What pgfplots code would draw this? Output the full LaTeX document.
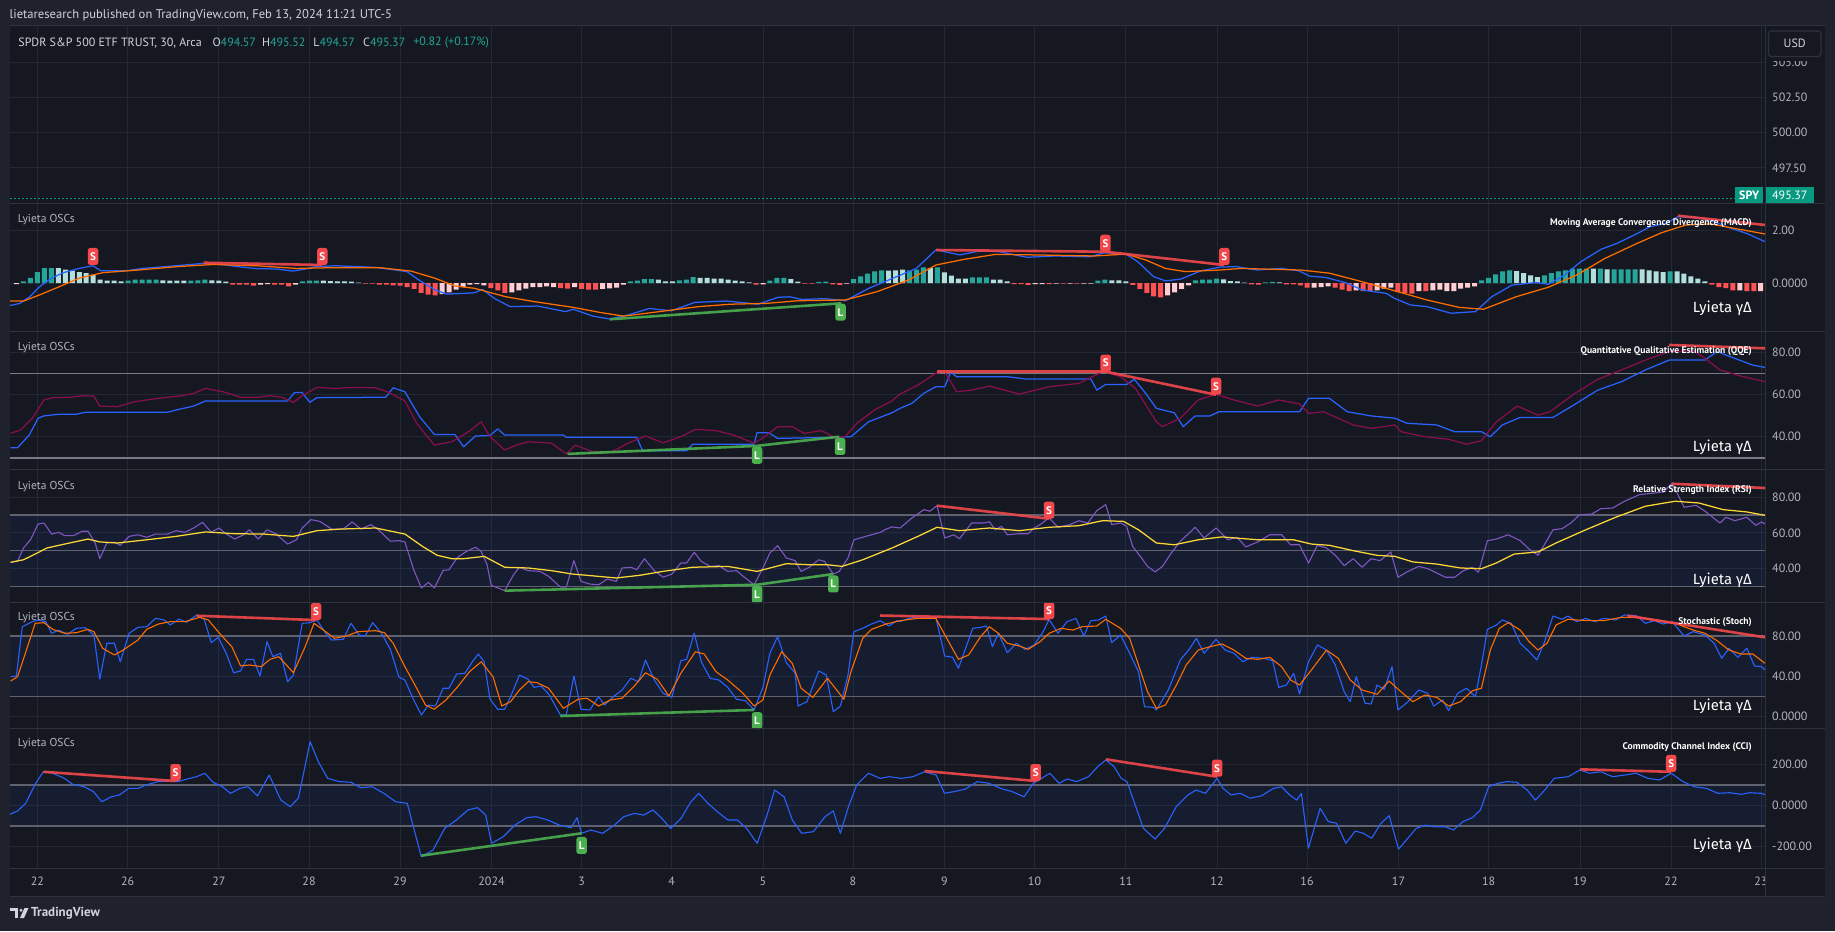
\documentclass[border=0pt]{standalone}
\usepackage{pgfplots}
\pgfplotsset{compat=1.18}
\usepackage{fontspec}
\setmainfont{PT Sans}
\newfontfamily\greekfont{Fira Sans}
\definecolor{outerbg}{RGB}{31,34,44}
\definecolor{chartbg}{RGB}{21,24,33}
\definecolor{gridc}{RGB}{36,40,51}
\definecolor{sepc}{RGB}{46,50,61}
\definecolor{tickc}{RGB}{178,181,190}
\definecolor{hdrc}{RGB}{209,212,220}
\definecolor{tvteal}{RGB}{8,153,129}
\definecolor{lvalc}{RGB}{34,166,148}
\definecolor{mblue}{RGB}{41,98,255}
\definecolor{morange}{RGB}{255,109,0}
\definecolor{hT}{RGB}{38,166,154}
\definecolor{hL}{RGB}{178,223,219}
\definecolor{hR}{RGB}{255,82,82}
\definecolor{hP}{RGB}{255,205,210}
\definecolor{qcrim}{RGB}{136,14,79}
\definecolor{rpurp}{RGB}{126,87,194}
\definecolor{ryel}{RGB}{253,216,53}
\definecolor{thr}{RGB}{95,98,110}
\definecolor{thrb}{RGB}{120,123,134}
\definecolor{bandc}{RGB}{41,98,255}
\definecolor{divred}{RGB}{242,72,76}
\definecolor{divgreen}{RGB}{76,175,80}
\newcommand{\fs}[1]{\fontsize{#1}{#1}\selectfont}
\pgfplotsset{
  osc/.style={
    scale only axis, width=1755pt, xmin=10, xmax=1765, clip=false,
    axis line style={draw=none}, major tick length=0pt,
    xtick={37.4,127.6,218.8,309,400,491.5,581.6,671.7,763,853,944.4,1034.5,1125.8,1217,1307,1398.5,1488.6,1580,1671,1761},
    xticklabels={},
    xmajorgrids, ymajorgrids,
    major grid style={draw=gridc, line width=1pt},
    yticklabel pos=right,
    yticklabel style={font=\fs{12}, text=tickc, anchor=west, inner sep=0pt, xshift=7pt},
    every axis plot/.append style={line width=1.25pt, line join=round},
  },
  hbar/.style={ybar, bar width=5pt, bar shift=0pt, draw=none, x filter/.expression={37.4+6.977*x}},
  dred/.style={divred, line width=2.6pt, opacity=0.9},
  dgreen/.style={divgreen, line width=2.6pt, opacity=0.9},
  sigS/.style={only marks, mark=text, text mark={S}, text mark as node=true,
    text mark style={rectangle, rounded corners=2.5pt, fill=divred, text=white, font=\fs{11}\bfseries, inner sep=0pt, minimum width=10.5pt, minimum height=17pt, yshift=8.5pt}},
  sigL/.style={only marks, mark=text, text mark={L}, text mark as node=true,
    text mark style={rectangle, rounded corners=2.5pt, fill=divgreen, text=white, font=\fs{11}\bfseries, inner sep=0pt, minimum width=10.5pt, minimum height=17pt, yshift=-8.5pt}},
}
\begin{document}
\begin{tikzpicture}
\path[use as bounding box] (0pt,0pt) rectangle (1835pt,-931pt);
\fill[outerbg] (0pt,0pt) rectangle (1835pt,-931pt);
\fill[chartbg] (10pt,-26pt) rectangle (1825pt,-896pt);

% ---------------- price pane
\begin{axis}[osc, at={(10pt,-26pt)}, anchor=north west, height=177pt, ymin=495.02, ymax=507.55,
  ytick={497.5,500,502.5,505}, yticklabels={497.50,500.00,502.50,505.00}]
\addplot[tvteal, line width=1pt, dash pattern=on 1.5pt off 2.5pt] coordinates {(10,495.37) (1735,495.37)};
\end{axis}

% ---------------- MACD pane
\begin{axis}[osc, at={(10pt,-203pt)}, anchor=north west, height=128.5pt, ymin=-1.830, ymax=3.019,
  ytick={0,2}, yticklabels={0.0000,2.00}]
\addplot[hbar, fill=hT] coordinates {(-2,0.064) (-1,0.189) (0,0.415) (1,0.566) (2,0.566) (13,0.087) (14,0.125) (15,0.125) (16,0.125) (17,0.125) (22,0.087) (23,0.102) (24,0.125) (38,0.064) (39,0.087) (40,0.087) (85,0.064) (86,0.087) (87,0.151) (88,0.151) (92,0.102) (93,0.125) (94,0.226) (105,0.087) (106,0.189) (107,0.189) (112,0.038) (113,0.049) (117,0.151) (118,0.253) (119,0.351) (120,0.441) (121,0.479) (125,0.479) (126,0.502) (127,0.592) (129,0.592) (134,0.215) (135,0.215) (136,0.215) (152,0.087) (153,0.125) (166,0.102) (167,0.125) (168,0.125) (169,0.162) (176,0.026) (177,0.038) (207,0.102) (208,0.189) (209,0.328) (210,0.441) (211,0.479) (216,0.29) (217,0.377) (218,0.441) (219,0.479) (220,0.54) (221,0.54) (222,0.54) (224,0.54) (226,0.517) (227,0.517) (228,0.517) (229,0.517) (234,0.441)};
\addplot[hbar, fill=hL] coordinates {(3,0.566) (4,0.502) (5,0.464) (6,0.415) (7,0.377) (8,0.313) (9,0.125) (10,0.087) (11,0.087) (12,0.064) (18,0.102) (19,0.087) (20,0.087) (21,0.087) (25,0.102) (26,0.087) (27,0.049) (41,0.087) (42,0.075) (43,0.064) (44,0.064) (45,0.049) (46,0.011) (89,0.125) (90,0.064) (91,0.064) (95,0.189) (96,0.189) (97,0.162) (98,0.162) (99,0.125) (100,0.087) (101,0.064) (102,0.026) (108,0.151) (109,0.049) (122,0.464) (123,0.479) (124,0.502) (128,0.566) (130,0.404) (131,0.275) (132,0.162) (133,0.162) (137,0.125) (138,0.125) (139,0.064) (154,0.102) (155,0.102) (156,0.064) (170,0.14) (171,0.075) (172,0.064) (173,0.011) (178,0.026) (212,0.453) (213,0.377) (214,0.29) (215,0.226) (223,0.54) (225,0.517) (230,0.517) (231,0.479) (232,0.441) (233,0.415) (235,0.441) (236,0.351) (237,0.253) (238,0.162) (239,0.064)};
\addplot[hbar, fill=hR] coordinates {(28,-0.064) (29,-0.064) (30,-0.064) (31,-0.102) (34,-0.064) (35,-0.064) (36,-0.125) (47,-0.026) (48,-0.026) (49,-0.064) (50,-0.064) (51,-0.087) (52,-0.102) (53,-0.151) (54,-0.226) (55,-0.377) (56,-0.441) (57,-0.464) (65,-0.189) (66,-0.275) (67,-0.377) (75,-0.189) (76,-0.215) (78,-0.226) (79,-0.253) (80,-0.253) (103,-0.064) (110,-0.026) (111,-0.026) (114,-0.049) (115,-0.075) (140,-0.038) (141,-0.038) (142,-0.075) (145,-0.038) (147,-0.026) (149,-0.026) (157,-0.075) (158,-0.226) (159,-0.377) (160,-0.502) (161,-0.54) (174,-0.049) (175,-0.064) (179,-0.049) (180,-0.049) (181,-0.087) (182,-0.177) (186,-0.177) (187,-0.253) (188,-0.302) (190,-0.302) (191,-0.302) (195,-0.34) (196,-0.377) (197,-0.404) (199,-0.302) (240,-0.064) (241,-0.151) (242,-0.189) (243,-0.275) (245,-0.302) (246,-0.302)};
\addplot[hbar, fill=hP] coordinates {(-3,-0.038) (32,-0.064) (33,-0.038) (37,-0.064) (58,-0.415) (59,-0.351) (60,-0.253) (61,-0.151) (62,-0.064) (63,-0.038) (64,-0.087) (68,-0.351) (69,-0.275) (70,-0.215) (71,-0.151) (72,-0.151) (73,-0.125) (74,-0.151) (77,-0.151) (81,-0.226) (82,-0.207) (83,-0.17) (84,-0.064) (104,-0.049) (116,-0.026) (143,-0.038) (144,-0.038) (146,-0.026) (148,-0.026) (150,-0.026) (151,-0.026) (162,-0.464) (163,-0.351) (164,-0.226) (165,-0.087) (183,-0.177) (184,-0.151) (185,-0.125) (189,-0.275) (192,-0.275) (193,-0.215) (194,-0.177) (198,-0.302) (200,-0.275) (201,-0.253) (202,-0.302) (203,-0.302) (204,-0.215) (205,-0.177) (206,-0.125) (244,-0.275) (247,-0.302)};
% MACD line
\addplot[mblue] coordinates {(10,-0.85) (19.8,-0.77) (29.7,-0.52) (39.5,-0.14) (51.4,0.18) (63.3,0.39) (79,0.55) (93,0.65) (100.8,0.46) (114.7,0.46) (126.5,0.46) (142,0.55) (166,0.62) (203.6,0.74) (221.4,0.70) (237,0.62) (257,0.54) (276.8,0.53) (292.6,0.45) (304.5,0.52) (316,0.62) (336,0.65) (375.6,0.59) (395.4,0.49) (407,0.43) (419,0.11) (435,-0.26) (446.8,-0.42) (474.5,-0.37) (482.4,-0.24) (494.3,-0.58) (510,-0.89) (537.8,-0.87) (565.4,-1.08) (573.3,-0.99) (593,-1.25) (609.9,-1.36) (627.7,-1.21) (649.4,-0.96) (671.2,-1.05) (694.9,-0.73) (726.5,-0.68) (758.2,-0.80) (778,-0.54) (789.8,-0.52) (801.7,-0.62) (825.4,-0.59) (845.2,-0.67) (868.9,-0.20) (896.6,0.24) (916.3,0.55) (936,1.25) (959.8,1.06) (979.6,1.21) (999.4,1.18) (1027,0.97) (1054.7,1.02) (1090,0.99) (1104,1.14) (1126,1.09) (1137.8,0.80) (1153.6,0.24) (1165.4,0.08) (1181,0.15) (1201,0.46) (1220,0.60) (1236.5,0.62) (1256.7,0.49) (1281,0.55) (1299,0.46) (1309.4,0.26) (1325.6,0.21) (1345.8,0.01) (1362,-0.26) (1374,-0.33) (1386.3,-0.39) (1394.4,-0.58) (1410.6,-0.83) (1426.8,-0.89) (1451,-1.14) (1475.4,-1.08) (1491.6,-0.52) (1511.9,-0.08) (1536,0.02) (1548.3,-0.05) (1564.5,0.30) (1580.7,0.80) (1601,1.27) (1617.2,1.50) (1637.4,1.87) (1649.6,2.12) (1665.8,2.25) (1678,2.50) (1694,2.48) (1710.3,2.38) (1726.5,2.12) (1746.8,1.87) (1765,1.56)};
% signal
\addplot[morange] coordinates {(10,-0.68) (23.7,-0.68) (39.5,-0.45) (59.3,-0.14) (79,0.18) (102.8,0.39) (138.4,0.49) (178,0.62) (213.5,0.70) (257,0.65) (296.6,0.55) (336,0.58) (379.6,0.58) (411,0.45) (435,0.18) (454.7,-0.11) (474.5,-0.20) (506,-0.52) (533.8,-0.70) (573.3,-0.92) (600,-1.11) (623.7,-1.25) (659.3,-1.08) (698.8,-0.89) (730.5,-0.80) (766,-0.77) (797.7,-0.67) (845.2,-0.64) (876.8,-0.33) (908.4,0.11) (936,0.68) (963.8,0.89) (995.4,1.08) (1035,1.06) (1094.3,1.02) (1126,1.09) (1145.7,0.87) (1165.4,0.55) (1185.2,0.43) (1220,0.49) (1240.5,0.55) (1301,0.49) (1329.6,0.37) (1362,0.05) (1394.4,-0.29) (1426.8,-0.64) (1459.2,-0.92) (1483.5,-0.99) (1516,-0.52) (1548.3,-0.16) (1576.7,0.30) (1605,0.93) (1637.4,1.50) (1661.7,1.90) (1686,2.19) (1710.3,2.23) (1734.6,2.06) (1765,1.85)};
\addplot[dred] coordinates {(203.6,0.766) (322.3,0.68)};
\addplot[dgreen] coordinates {(609.9,-1.37) (841.2,-0.766)};
\addplot[dred] coordinates {(936.1,1.245) (1105.4,1.18)};
\addplot[dred] coordinates {(1105.4,1.18) (1224.3,0.68)};
\addplot[dred] coordinates {(1678,2.54) (1765,2.19)};
\addplot[sigS] coordinates {(93,0.68) (322.3,0.68) (1105.4,1.18) (1224.3,0.68)};
\addplot[sigL] coordinates {(840.5,-0.78)};
\end{axis}

% ---------------- QQE pane
\begin{axis}[osc, at={(10pt,-331.5pt)}, anchor=north west, height=137.5pt, ymin=24.62, ymax=90.10,
  ytick={40,60,80}, yticklabels={40.00,60.00,80.00}]
\addplot[thrb, line width=1.2pt] coordinates {(10,70) (1765,70)};
\addplot[thrb, line width=2pt] coordinates {(10,30) (1765,30)};
\addplot[mblue] coordinates {(10.6,34.8) (17.6,34.8) (29.3,40.8) (38.1,48.8) (44,49.9) (58.7,50.7) (76.3,50.7) (85,51.6) (167.3,51.6) (176,52.7) (193.7,54.6) (205.4,57) (287.6,57) (294.6,61.1) (302,61.1) (309.9,56.4) (316.9,58.6) (385.6,58.8) (393.2,63.3) (404.9,61.4) (419.6,49.5) (434.3,41.1) (454.8,41.1) (463.6,35.2) (475.4,40.3) (490,40.6) (497.7,43.7) (504.7,40.8) (563.4,40.8) (566.3,39.7) (636.7,39.7) (642.6,33.3) (686.6,33.3) (692.5,36.4) (754,36.4) (757,41.9) (768.8,41.9) (777.6,39.2) (833.3,39.7) (851,40.0) (868.5,47.1) (892,51.4) (900,53.5) (911.9,55.9) (923.9,60.7) (935.8,63.8) (944.7,63.8) (950.7,70.7) (956.6,68.6) (1007.3,68.6) (1025.2,67.5) (1090.8,67.5) (1096.8,62.2) (1105.7,64.9) (1126.6,64.9) (1134.3,67.3) (1144.5,61.4) (1156.4,53.5) (1174.3,51.4) (1183.2,44.8) (1195.2,49.9) (1210,49.9) (1219,51.9) (1299.5,51.9) (1308.5,58.3) (1329.3,58.3) (1347.2,51.9) (1371.1,49.9) (1395,48.8) (1406.9,46.4) (1436.7,45.6) (1454.6,42.4) (1481.4,42.4) (1490.3,40) (1502.3,45.6) (1520.2,49.2) (1553,49.2) (1573.8,55.1) (1597.7,62.2) (1621.5,66.2) (1645.4,71.8) (1669.2,76.5) (1705,76.5) (1717,80.5) (1734.8,77.3) (1752.7,74.1) (1765,73)};
\addplot[qcrim] coordinates {(10.6,41.6) (20.5,43.2) (32.3,48.8) (44,57.5) (52.8,58.6) (70.4,58.8) (82.2,59.5) (93.9,59.3) (99.8,54.6) (117.4,54.3) (135,56.7) (158.5,58.3) (181.9,59.5) (193.7,60.7) (205.4,63) (223,61.4) (240.6,58.8) (258.2,58.8) (270,59.5) (281.7,58.8) (293.4,56.4) (302.2,59.5) (316.9,63.5) (334.5,63) (352.1,63.5) (375.6,63.3) (387.3,61.4) (404.9,57) (416.7,46.4) (434.3,36) (451.9,37.6) (469.5,42.7) (481.2,47.1) (490,40) (504.7,33.7) (516.4,36) (528.2,37.6) (551.6,36.9) (566.3,31.8) (575.1,36) (592.7,32.9) (610.3,32.4) (627.9,36.9) (645.5,40.3) (663.1,37.1) (680.8,40) (695.4,43.5) (716,42.9) (733.6,40.8) (754.1,36.9) (763,39.5) (777.6,44.8) (792.3,44.8) (804,41.6) (821.6,42.9) (833.3,40) (845,40) (856.8,46.4) (874.4,52.7) (892,57.1) (900,60.3) (917.9,64.6) (935.8,70.2) (944.7,71) (956.6,61.4) (971.6,62.2) (989.4,64.1) (1019.3,60.3) (1049.1,63.8) (1078.9,65.4) (1102.7,71) (1120.6,68.6) (1135.5,63) (1156.4,47.1) (1162.4,44.8) (1180.3,48.8) (1198.2,57.5) (1216,60.2) (1233.9,57.5) (1257.8,54.6) (1278.7,57.5) (1299.5,55.6) (1308.5,51.1) (1323.4,51.9) (1353.2,45.6) (1371.1,44) (1395,45.6) (1400.9,42.4) (1424.8,40) (1448.6,38.8) (1466.5,36.4) (1481.4,38.1) (1496.3,47.1) (1517.2,54.6) (1538,50.3) (1550,51.9) (1573.8,60.3) (1597.7,67.3) (1621.5,71.8) (1645.4,76.5) (1669.2,80.5) (1693.1,81) (1705,77.3) (1719.9,71.8) (1740.8,68.9) (1765,66.2)};
\addplot[dgreen] coordinates {(567.5,31.8) (756,35.6)};
\addplot[dgreen] coordinates {(756,35.6) (839.2,40.0)};
\addplot[dred] coordinates {(937,71) (1105.7,71)};
\addplot[dred] coordinates {(1105.7,71) (1216,60.0)};
\addplot[dred] coordinates {(1669,83.7) (1765,82.1)};
\addplot[sigS] coordinates {(1105.7,71) (1216,60.0)};
\addplot[sigL] coordinates {(757,35.2) (840,39.4)};
\end{axis}

% ---------------- RSI pane
\begin{axis}[osc, at={(10pt,-469pt)}, anchor=north west, height=133.5pt, ymin=21.06, ymax=95.85,
  ytick={40,60,80}, yticklabels={40.00,60.00,80.00}]
\addplot[draw=none, fill=bandc, fill opacity=0.07] coordinates {(10,30) (1765,30) (1765,70) (10,70)} -- cycle;
\addplot[thr, line width=1.3pt] coordinates {(10,70) (1765,70)};
\addplot[thr, line width=1.3pt] coordinates {(10,50) (1765,50)};
\addplot[thr, line width=1.3pt] coordinates {(10,30) (1765,30)};
\addplot[rpurp, line width=1.1pt] coordinates {(10.6,43.6) (17.6,44.1) (23.5,51.6) (30.5,56.2) (38.1,65) (44,65.6) (51.6,59.4) (58.7,60.4) (64.6,58.5) (73.4,58.5) (82.2,61) (88,61) (95.1,54.4) (99.8,45.6) (106.8,54.4) (114.4,54.8) (120.3,53.1) (129.1,58.1) (137.9,59) (146.7,57.6) (155.5,59.4) (167.3,59.4) (176,61.3) (184.9,60.4) (193.7,62.8) (202.5,66) (211.3,60.4) (218.9,62.8) (225.9,59.6) (234.7,56.6) (243.5,59) (249.4,61.8) (258.2,56.6) (267,61.8) (275.8,59.6) (287.6,53.8) (296.4,56.2) (302.2,62.8) (311,67.5) (319.8,66.5) (331.6,62.2) (343.3,62.2) (352.1,66.2) (360.9,62.2) (370.9,64.7) (378.5,61.8) (390.3,55.4) (399,55.7) (404.9,55) (413.7,39.4) (421.4,29.2) (428.4,32.4) (434.3,29.2) (443.1,39.1) (448.9,39.4) (457.7,46.4) (466.5,49.7) (475.4,52) (481.2,49.7) (487.1,42.2) (491.2,30.7) (504.7,27.7) (513.5,36.6) (519.4,40.8) (528.2,38.9) (539.9,38.5) (548.7,35.7) (560.4,29.7) (566.3,29.7) (573.9,44.5) (581,32.9) (589.8,31.4) (598.6,31) (607.4,34.2) (616.2,32.9) (622.1,40.4) (630.9,40.8) (636.7,39.4) (644.4,45.6) (654.3,38.9) (663.1,35.2) (671.9,37) (680.8,43.2) (686.6,43.2) (694.2,49.2) (701.3,44.1) (710.1,41.3) (718.9,41.7) (727.7,38.5) (736.5,38.9) (745.3,34.8) (754.1,31) (762.9,40.4) (769.9,48.8) (777.6,52.9) (786.4,46) (795.2,44.5) (801.1,38.5) (809.9,41) (818.7,45) (824.5,44.1) (833.3,37) (839.2,38.5) (848,46) (853.9,56.2) (862.7,57.6) (871.5,59) (880.3,60.4) (886.2,62.2) (892,63.4) (900,62.8) (911.9,68.4) (923.9,73.1) (929.8,72.2) (937,75.3) (944.7,57.2) (953.7,59) (959.6,56.8) (971.6,65.6) (983.5,65.6) (989.4,66.2) (995.4,61.8) (1001.4,63.8) (1007.3,59) (1019.3,59.6) (1028.2,59.6) (1034.2,62.8) (1040.1,64.7) (1049.1,68.5) (1058,63.2) (1070,64.7) (1078.9,66.9) (1087.8,65.6) (1096.8,72.5) (1105.7,75.9) (1111.7,64.7) (1120.6,65.6) (1126.6,63.8) (1132.6,52.5) (1141.5,46) (1147.5,41.3) (1155.2,38.2) (1162.4,41.3) (1171.3,48.8) (1180.3,55.4) (1189.2,60) (1195.2,63.2) (1204.1,57.2) (1216,62.8) (1228,56.2) (1236.9,57.6) (1245.8,52.2) (1257.8,55) (1269.7,59) (1281.6,59) (1290.6,53.4) (1299.5,53.4) (1308.5,43.2) (1317.4,53.1) (1326.4,51.6) (1335.3,47.5) (1344.2,41.7) (1353.2,45.6) (1362.1,40.8) (1371.1,45.6) (1380,44.5) (1390.8,49.4) (1397.9,35.2) (1406.9,38.2) (1418.8,41.3) (1427.7,40) (1436.7,37.6) (1445.6,35.2) (1454.6,35.2) (1463.5,38.9) (1472.5,40.8) (1478.4,38) (1487.4,55.7) (1496.3,56.6) (1508.2,59) (1520.2,55.7) (1529.1,51) (1538,47.5) (1544,53.1) (1553,61.8) (1562,62.4) (1570.8,65.6) (1579.8,70.3) (1591.7,70.6) (1600.7,73.6) (1612.6,74) (1624.5,77.8) (1639.4,81.5) (1654.3,82.4) (1663.3,83) (1672.2,88) (1684.1,74.4) (1696,75.5) (1705,72.2) (1719.9,65.6) (1725.9,68.8) (1734.8,66.9) (1746.8,68.8) (1755.7,64.3) (1761.7,66.2) (1765,65)};
\addplot[ryel] coordinates {(10.6,43.6) (23.5,45) (35.2,48.2) (46.9,51.6) (64.6,53.8) (88,56.6) (99.8,55) (117.4,54.4) (146.7,56.2) (176,58.1) (205.4,60.6) (234.7,59.6) (264.1,59.4) (293.4,58.1) (316.9,61.3) (340.4,62.2) (375.6,62.8) (404.9,59.4) (422.5,52.5) (437.2,47.5) (451.9,45.6) (463.6,45.6) (484.2,46.9) (504.7,40.8) (528.2,40.4) (551.6,38.9) (572.2,37) (586.9,36.3) (616.2,34.8) (639.7,36.3) (663.1,38.5) (692.5,40.8) (727.7,41.3) (757,38.5) (786.4,42.8) (809.9,42.2) (827.5,42.2) (842.1,41.3) (862.7,45) (892,51.6) (917.9,58.1) (937,63.2) (959.6,61.3) (989.4,62.8) (1019.3,61.3) (1049.1,63.2) (1078.9,64.1) (1102.7,66.9) (1123.6,66.5) (1138.5,61.8) (1156.4,54.4) (1174.3,53.4) (1198.2,56.2) (1222,57.8) (1257.8,56.2) (1293.6,56.2) (1311.4,53.8) (1329.3,53.1) (1353.2,50.1) (1377,47.5) (1394.9,46.9) (1412.8,43.8) (1436.7,42.6) (1460.5,40.4) (1481.4,40) (1496.3,43.2) (1514.2,48.2) (1538,49.4) (1556,54.4) (1585.8,61.8) (1615.6,68.8) (1645.4,75) (1675.2,77.8) (1699,76.8) (1722.9,73.1) (1746.8,71.8) (1765,69.9)};
\addplot[dgreen] coordinates {(504.7,27.7) (757,31)};
\addplot[dgreen] coordinates {(757,31) (833.3,37)};
\addplot[dred] coordinates {(937,75.3) (1049,68.0)};
\addplot[dred] coordinates {(1672,87.6) (1765,85.2)};
\addplot[sigS] coordinates {(1049,68.0)};
\addplot[sigL] coordinates {(757,30.3) (833.3,36.2)};
\end{axis}

% ---------------- Stoch pane
\begin{axis}[osc, at={(10pt,-602.5pt)}, anchor=north west, height=125.5pt, ymin=-11.18, ymax=113.2,
  ytick={0,40,80}, yticklabels={0.0000,40.00,80.00}]
\addplot[draw=none, fill=bandc, fill opacity=0.07] coordinates {(10,20) (1765,20) (1765,80) (10,80)} -- cycle;
\addplot[thr, line width=1.3pt] coordinates {(10,80) (1765,80)};
\addplot[thr, line width=1.3pt] coordinates {(10,20) (1765,20)};
\addplot[mblue, line width=1.1pt] coordinates {(10.6,39.7) (16.4,40.4) (22.3,89.2) (32.3,94.2) (38.1,95.9) (45.8,94.2) (51.6,82.7) (58.7,85.9) (67.5,81.7) (76.3,87.6) (85.1,88.2) (93.9,81) (99.8,37.4) (106.8,72.8) (114.4,72.8) (120.3,54.5) (129.1,82.7) (137.9,88.6) (146.7,89.2) (155.5,97.5) (164.3,95.9) (170.2,90.9) (179,96.8) (186.6,93.6) (196.6,100.8) (204.2,96.6) (211.3,73.4) (218.3,78.7) (225.9,63.4) (233.6,43.6) (240.6,45.3) (246.5,56.9) (253.5,56.9) (260,40.4) (267,74.4) (272.9,59.5) (280.5,62.9) (287.6,34.7) (293.4,41.3) (302.2,92.6) (309.9,93.2) (316.9,95.9) (325.7,82.7) (331.6,76) (343.3,76.7) (350.9,92.6) (359.2,81) (365,80) (372.7,93.2) (381.5,82.7) (390.3,66.8) (399,39.1) (404.9,36.4) (413.7,16.6) (421.4,1.7) (428.4,11.6) (435.4,10.6) (443.1,28.2) (448.9,28.2) (456.6,42.3) (464.8,43) (472.4,54.5) (478.3,62.2) (484.2,54.5) (490,17.3) (497.7,7.4) (504.7,7.4) (510.6,19.8) (519.4,41.3) (528.2,37.1) (534,29.1) (541.1,30.4) (548.7,22.5) (560.4,1.7) (566.3,1.7) (573.9,40.4) (581,7.4) (589.8,6.7) (598.6,19.8) (604.5,11.6) (613.3,19.8) (622.1,26.5) (630.9,38.1) (638.5,34.7) (645.5,56.2) (654.3,36.4) (663.1,23.2) (671.9,19.2) (680.8,55.5) (686.6,56.9) (694.2,82.7) (701.3,54.5) (710.1,38.1) (718.9,36.4) (727.7,29.1) (736.5,17.3) (745.3,15.9) (754.1,6.7) (762.9,29.1) (769.9,62.9) (777.6,79.3) (786.4,53.5) (795.2,43) (798.1,10.6) (806.9,14.9) (818.7,45.3) (826.3,41.3) (833.3,5) (840.4,10.6) (848,41.3) (853.9,84.3) (862.7,87.6) (871.5,91.9) (880.3,95.2) (889.1,89.9) (896.7,95.2) (900,94.2) (908.9,97.5) (917.9,99.1) (926.8,97.5) (935.8,98.5) (944.7,60.2) (952.5,58.9) (958.4,48) (965.6,67.8) (972.7,87.6) (980.5,88.6) (986.5,89.9) (992.4,69.4) (998.4,82.7) (1007.3,63.4) (1016.3,72.8) (1025.2,66.8) (1034.2,71.1) (1043.1,84.3) (1049.1,96.5) (1058,82.7) (1067,94.2) (1075.9,97.5) (1083.7,80) (1090.8,95.2) (1098.6,95.9) (1105.7,99.8) (1111.7,73.4) (1120.6,81) (1129.6,62.9) (1138.5,44.6) (1144.5,9.9) (1153.4,9.3) (1156.4,6.7) (1168.3,26.5) (1180.3,56.2) (1189.2,66.8) (1196.4,77.7) (1204.1,62.9) (1216,76.7) (1225,66.1) (1233.9,62.9) (1242.9,54.5) (1251.8,58.9) (1263.7,57.9) (1272.7,55.5) (1278.7,29.1) (1286.4,31.4) (1293.6,43) (1299.5,22.5) (1308.5,54.5) (1317.4,71.1) (1326.4,66.1) (1335.3,51.3) (1344.2,24.8) (1350.2,14.9) (1356.2,39.7) (1365.1,13.3) (1371.1,12.6) (1377,31.4) (1384.2,27.2) (1392,49.6) (1397.9,6.7) (1406.9,13.9) (1418.8,26.5) (1427.7,23.2) (1433.7,10.6) (1442.6,16.6) (1448.6,6) (1457.6,23.2) (1466.5,28.2) (1475.4,19.8) (1481.4,51.3) (1487.4,86.6) (1496.3,90.9) (1502.3,95.9) (1511.2,92.6) (1520.2,72.8) (1529.1,64.4) (1536.9,56.2) (1544,72.8) (1553,99.8) (1562,96.6) (1567.9,99.8) (1576.8,94.2) (1585.7,97.5) (1594.7,94.2) (1603.6,97.5) (1615.6,95.9) (1624.5,100.8) (1636.5,100.1) (1645.4,92.6) (1654.4,95.2) (1663.3,91.9) (1672.2,94.2) (1684.1,80) (1693.1,84.3) (1705,81) (1714,72.8) (1721.7,57.9) (1728.9,67.8) (1737.8,58.9) (1746.8,67.8) (1754.5,50.3) (1761.7,49.6) (1765,46.3)};
\addplot[morange, line width=1.1pt] coordinates {(10.6,35.4) (17.6,39.7) (26.4,66.1) (35.2,92.6) (44,93.2) (52.8,86.6) (64.6,82.7) (76.3,83.3) (88,86.6) (93.9,84.3) (102.7,67.8) (114.4,61.2) (123.2,66.1) (137.9,76) (146.7,86.6) (158.5,91.9) (170.2,94.2) (184.9,94.2) (199.5,98.5) (208.3,95.9) (220.1,82) (231.8,69.4) (240.6,50.3) (249.4,51.3) (261.2,49.6) (270,56.9) (278.8,59.5) (293.4,43.6) (305.2,69.4) (314,92.6) (325.7,84.3) (334.5,77.7) (346.2,80) (358,84.3) (375.6,85.3) (384.4,83.3) (393.2,72.8) (404.9,49.6) (416.7,28.2) (425.5,11.6) (434.3,7.4) (446,16.6) (457.7,29.8) (469.5,44.6) (481.2,54.5) (493,39.7) (501.8,10.6) (510.6,14.9) (519.4,26.5) (528.2,34.7) (537,33.7) (548.7,28.2) (563.4,8.3) (578,17.3) (586.9,18.3) (598.6,10.6) (610.3,16.6) (622.1,18.3) (633.8,29.8) (645.5,43.6) (657.3,37.1) (669,20.5) (680.8,43) (695.4,64.4) (704.2,62.2) (716,44.6) (727.7,36.4) (742.4,23.8) (754.1,10.6) (762.9,16.6) (769.9,41.3) (781.7,64.4) (792.3,52.9) (801.1,28.2) (812.8,19.2) (827.5,38.1) (843.9,17.3) (850.9,44.6) (862.7,77.7) (871.5,86.6) (886.2,91.9) (900,95.2) (917.9,97.5) (935.8,97.5) (947.7,76) (958.4,56.9) (968.6,61.2) (980.5,79.3) (989.4,89.2) (998.4,82.7) (1007.3,72.8) (1019.3,70.1) (1028.2,66.8) (1040.1,74.4) (1049.1,82.7) (1061,87.6) (1072.9,85.9) (1081.9,89.2) (1096.8,89.9) (1105.7,96.6) (1120.6,87.6) (1129.6,77.7) (1138.5,51.3) (1147.5,24.8) (1156.4,8.3) (1165.4,11.6) (1177.3,33.1) (1186.2,51.3) (1198.2,66.1) (1210.1,69.4) (1222,72.1) (1233.9,66.1) (1245.8,57.9) (1257.8,56.9) (1269.7,58.9) (1281.6,49.6) (1290.6,36.4) (1299.5,31.4) (1311.4,46.3) (1326.4,66.1) (1338.3,57.9) (1350.2,36.4) (1362.1,26.5) (1377,22.2) (1389,35.4) (1400.9,24.8) (1412.8,14.9) (1424.8,21.5) (1436.7,19.2) (1448.6,10.6) (1460.5,14.9) (1472.5,25.8) (1481.4,28.2) (1490.3,66.1) (1499.3,87.6) (1508.2,93.2) (1520.2,85.9) (1529.1,74.4) (1538,66.1) (1547,72.8) (1556,90.9) (1567.9,96.6) (1585.7,95.2) (1603.6,95.2) (1621.5,98.5) (1639.4,98.5) (1657.3,95.2) (1675.2,92.6) (1693.1,85.9) (1705,82.7) (1717,75.4) (1728.9,66.1) (1740.8,62.2) (1752.7,62.2) (1765,52.9)};
\addplot[dred] coordinates {(196.6,100.1) (316,95.8)};
\addplot[dgreen] coordinates {(560.4,0.7) (754.1,6.7)};
\addplot[dred] coordinates {(880,100.3) (1049,96.8)};
\addplot[dred] coordinates {(1627.5,100.1) (1765,78.7)};
\addplot[sigS] coordinates {(316,95.8) (1049,96.8)};
\addplot[sigL] coordinates {(757,4.5)};
\end{axis}

% ---------------- CCI pane
\begin{axis}[osc, at={(10pt,-728pt)}, anchor=north west, height=140pt, ymin=-307.3, ymax=375.6,
  ytick={-200,0,200}, yticklabels={-200.00,0.0000,200.00},
  xticklabels={22,26,27,28,29,2024,3,4,5,8,9,10,11,12,16,17,18,19,22,23},
  xticklabel style={font=\fs{12}, text=tickc, anchor=center, inner sep=0pt, yshift=-13pt}]
\addplot[draw=none, fill=bandc, fill opacity=0.07] coordinates {(10,-100) (1765,-100) (1765,100) (10,100)} -- cycle;
\addplot[thr, line width=2pt] coordinates {(10,100) (1765,100)};
\addplot[thr, line width=2pt] coordinates {(10,-100) (1765,-100)};
\addplot[mblue, line width=1.1pt] coordinates {(10,-45) (17.6,-29) (25.7,8) (35.1,101) (43.3,162) (52.7,155) (64.4,130) (72.6,101) (84.3,89) (93.6,65) (101.8,16) (111.2,40) (119.4,49) (128.7,81) (138.1,81) (146.3,98) (158,114) (169.7,117) (177.9,114) (187.2,127) (196.6,138) (204.8,155) (213,111) (222.4,89) (230.5,57) (239.9,81) (248.1,89) (257.5,45) (269.2,146) (280.9,24) (290.2,-8) (298.4,33) (310.1,309) (318.3,211) (327.7,130) (339.4,114) (351.1,111) (360.5,84) (372.2,89) (383.9,57) (395.6,16) (407.3,8) (412,-81) (421.3,-252) (433,-220) (444.7,-114) (456.4,-73) (468.1,-24) (477.5,-13) (485.7,-49) (491.5,-187) (503.2,-155) (514.9,-98) (526.6,-62) (536,-57) (547.7,-73) (559.4,-98) (571.1,-111) (577,-62) (581.6,-138) (591,-122) (602.7,-138) (614.4,-98) (623.8,-57) (634.3,-41) (643.7,-49) (653,-24) (661.2,-62) (670.6,-114) (681.1,-65) (690.5,13) (698.7,57) (708,8) (717.4,-33) (727.9,-73) (737.3,-73) (746.6,-114) (757.2,-187) (766.5,-57) (774.7,73) (784.1,40) (792.3,-73) (801.7,-138) (813.4,-130) (825.1,-57) (833.3,-29) (840.3,-138) (848.5,-8) (856.7,98) (868.4,155) (880.1,130) (889.4,138) (901.1,130) (912.8,138) (924.5,162) (936.2,146) (944.4,57) (953.8,65) (965.5,78) (977.2,114) (988.9,106) (1000.6,81) (1012.3,65) (1024,40) (1033.4,106) (1041.6,130) (1049.8,155) (1059.1,106) (1067.3,127) (1076.7,114) (1088.4,138) (1097.7,187) (1105.9,220) (1114.1,187) (1121.2,130) (1127,114) (1135.2,0) (1143.4,-114) (1155.1,-166) (1164.5,-114) (1176.2,-8) (1187.9,49) (1196.1,73) (1205.4,57) (1217.1,130) (1223,81) (1231.1,49) (1240.5,57) (1249.9,33) (1261.6,45) (1273.3,81) (1281.5,89) (1289.7,49) (1296.7,24) (1301.4,57) (1308.4,-211) (1320.1,-16) (1328.3,-81) (1336.5,-89) (1345.8,-187) (1355.2,-127) (1363.4,-138) (1371.6,-162) (1381,-89) (1389.2,-52) (1398.5,-215) (1407.9,-162) (1416.1,-114) (1425.4,-98) (1433.6,-106) (1445.3,-106) (1453.5,-122) (1462.9,-81) (1472.3,-62) (1480.4,-24) (1488.6,89) (1498,106) (1507.3,114) (1516.7,111) (1527.2,73) (1535.4,24) (1544.8,73) (1554.1,130) (1568.2,138) (1579.9,171) (1589.3,155) (1600.9,162) (1612.6,138) (1624.4,146) (1636.1,155) (1647.8,130) (1659.5,122) (1671.2,155) (1682.9,114) (1694.6,89) (1706.3,81) (1718,57) (1729.7,60) (1741.4,52) (1749.6,60) (1761.3,57) (1765,50)};
\addplot[dred] coordinates {(43.3,162) (175.5,117)};
\addplot[dgreen] coordinates {(421.3,-247) (581.6,-138)};
\addplot[dred] coordinates {(924.5,166) (1035.7,117)};
\addplot[dred] coordinates {(1105.9,223) (1217.1,138)};
\addplot[dred] coordinates {(1580,174) (1671.2,162)};
\addplot[sigS] coordinates {(175.5,117) (1035.7,117) (1217.1,138) (1671.2,162)};
\addplot[sigL] coordinates {(581.6,-156)};
\end{axis}

% ---------------- separators
\foreach \yy in {203,331.5,469,602.5,728,868,896} {\draw[sepc, line width=1pt] (10pt,-\yy pt) -- (1825pt,-\yy pt);}
\fill[chartbg] (1766pt,-868.5pt) rectangle (1825pt,-895.5pt);
\draw[sepc, line width=1pt] (1765.5pt,-26pt) -- (1765.5pt,-896pt);
\draw[sepc, line width=1pt] (10pt,-26pt) -- (1825pt,-26pt);

% ---------------- header texts
\node[anchor=west, text=hdrc, font=\fs{12.6}, inner sep=0pt] at (9.5pt,-15.3pt) {lietaresearch published on TradingView.com, Feb 13, 2024 11:21 UTC-5};
\begin{scope}[every node/.style={anchor=west, font=\fs{12}, inner sep=0pt, text=hdrc}]
\node at (18.2pt,-42.7pt) {SPDR S\&P 500 ETF TRUST, 30, Arca};
\node at (212.3pt,-42.7pt) {O\textcolor{lvalc}{494.57}};
\node at (261.8pt,-42.7pt) {H\textcolor{lvalc}{495.52}};
\node at (313.2pt,-42.7pt) {L\textcolor{lvalc}{494.57}};
\node at (363pt,-42.7pt) {C\textcolor{lvalc}{495.37}};
\node[text=lvalc] at (413.2pt,-42.7pt) {+0.82 (+0.17\%)};
\end{scope}

% pane labels
\begin{scope}[every node/.style={anchor=west, font=\fs{11.5}, inner sep=0pt, text=tickc}]
\node at (17.6pt,-219.3pt) {Lyieta OSCs};
\node at (17.6pt,-347.3pt) {Lyieta OSCs};
\node at (17.6pt,-486.3pt) {Lyieta OSCs};
\node at (17.6pt,-617.3pt) {Lyieta OSCs};
\node at (17.6pt,-744pt) {Lyieta OSCs};
\end{scope}
\begin{scope}[every node/.style={anchor=east, font=\fs{9.6}\bfseries, inner sep=0pt, text=white}]
\node at (1752pt,-222.7pt) {Moving Average Convergence Divergence (MACD)};
\node at (1752pt,-350.7pt) {Quantitative Qualitative Estimation (QQE)};
\node at (1752pt,-490pt) {Relative Strength Index (RSI)};
\node at (1752pt,-622pt) {Stochastic (Stoch)};
\node at (1752pt,-746.7pt) {Commodity Channel Index (CCI)};
\end{scope}
\begin{scope}[every node/.style={anchor=east, font=\greekfont\fs{14.8}, inner sep=0pt, text=white}]
\node at (1752pt,-308.3pt) {Lyieta γΔ};
\node at (1752pt,-447.7pt) {Lyieta γΔ};
\node at (1752pt,-580.7pt) {Lyieta γΔ};
\node at (1752pt,-706pt) {Lyieta γΔ};
\node at (1752pt,-845.7pt) {Lyieta γΔ};
\end{scope}

% USD button and SPY label (button area hides the top of the 505.00 label)
\fill[chartbg] (1766.5pt,-26.5pt) rectangle (1825pt,-61pt);
\filldraw[fill=chartbg, draw=sepc, line width=1.2pt, rounded corners=3pt] (1768.5pt,-31pt) rectangle (1821pt,-56.5pt);
\node[text=hdrc, font=\fs{12}, inner sep=0pt] at (1794.7pt,-43.8pt) {USD};
\fill[tvteal] (1735pt,-187.3pt) rectangle (1763.3pt,-202.7pt);
\fill[tvteal] (1766pt,-187.3pt) rectangle (1813.7pt,-202.7pt);
\node[text=white, font=\fs{12}\bfseries, inner sep=0pt] at (1749.2pt,-195pt) {SPY};
\node[text=white, font=\fs{12}, inner sep=0pt] at (1789.8pt,-195pt) {495.37};

% TradingView logo
\fill[hdrc] (10pt,-908pt) rectangle (18pt,-911pt);
\fill[hdrc] (14.5pt,-908pt) rectangle (18pt,-918pt);
\fill[hdrc] (21pt,-910.2pt) circle (1.7pt);
\fill[hdrc] (20pt,-918pt) -- (24.5pt,-908pt) -- (28.5pt,-908pt) -- (24pt,-918pt) -- cycle;
\node[anchor=west, text=hdrc, font=\fs{13}\bfseries, inner sep=0pt] at (31pt,-913.3pt) {TradingView};
\end{tikzpicture}
\end{document}
